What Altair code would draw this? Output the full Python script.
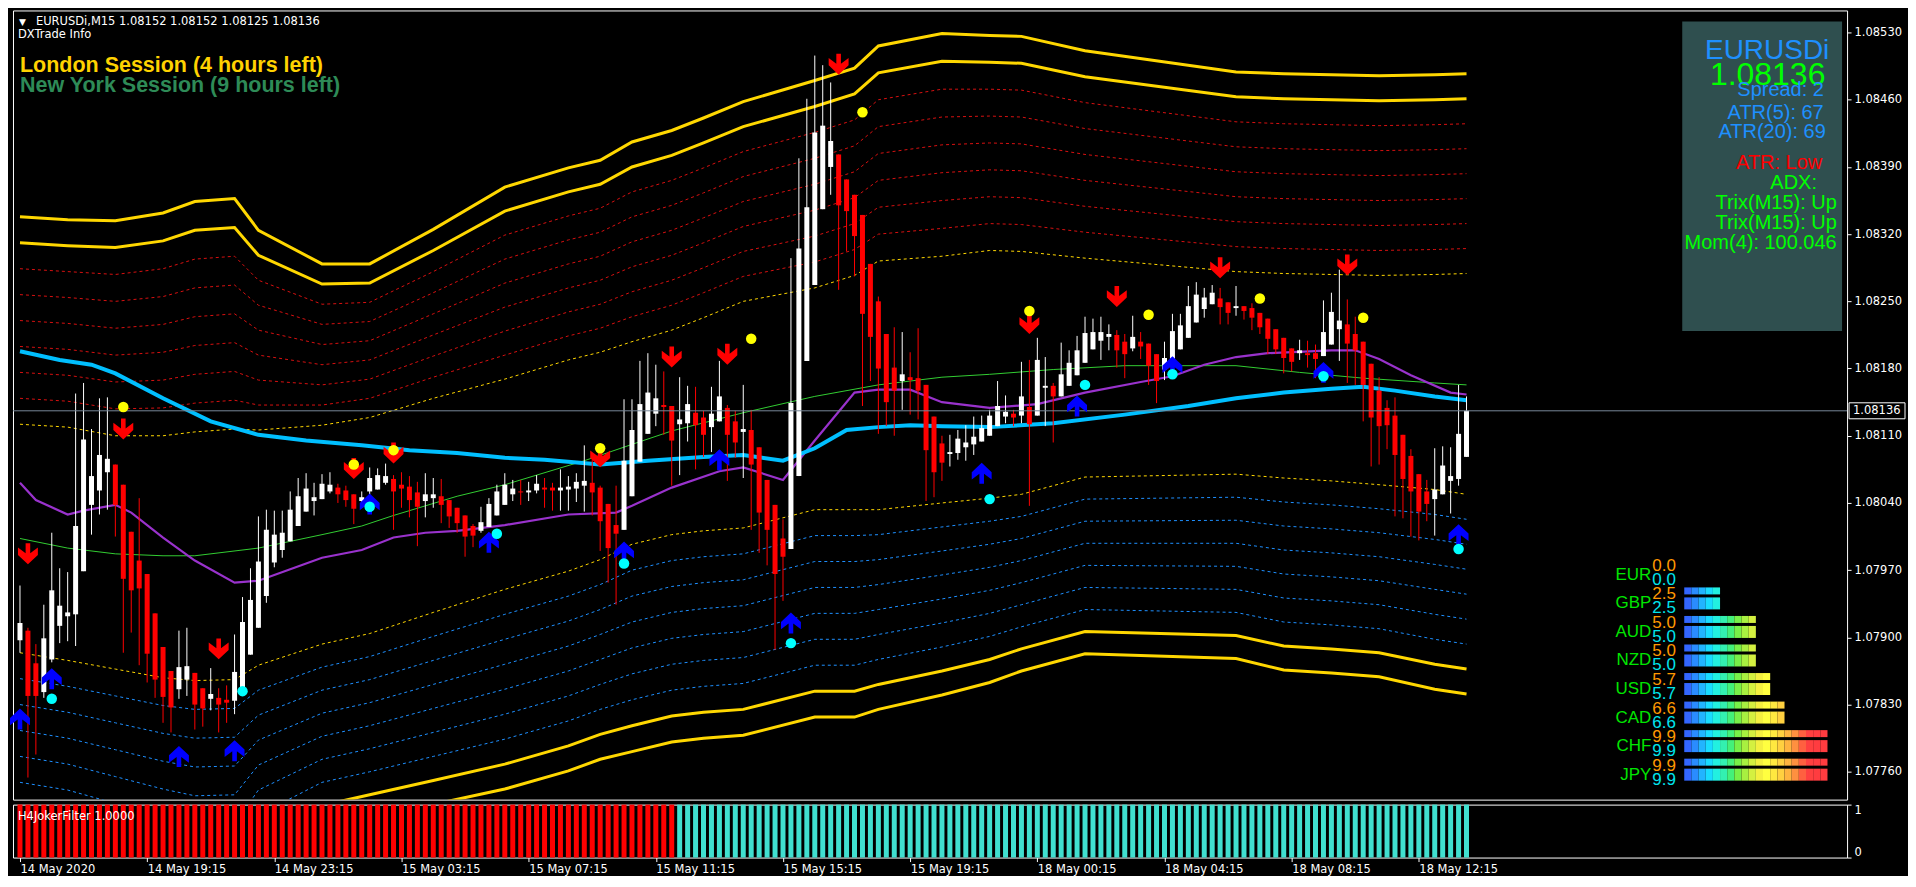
import json
import math
import altair as alt
import pandas as pd

W, H_MAIN, H_LOW = 1836, 790, 53
UI_FONT = "DejaVu Sans"
ARIAL = "Liberation Sans"

# ---------------- candle data (EURUSDi M15) ----------------
BAR = list(range(183))
OPEN = [1.07897,1.07907,1.07873,1.07843,1.07877,1.07912,1.07922,1.07924,1.07969,1.08038,
        1.08053,1.08072,1.08080,1.08059,1.08010,1.07980,1.07966,1.07925,1.07890,1.07865,
        1.07846,1.07856,1.07863,1.07847,1.07836,1.07837,1.07835,1.07834,1.07848,1.07882,
        1.07910,1.07943,1.07978,1.07991,1.08000,1.08016,1.08031,1.08042,1.08044,1.08052,
        1.08056,1.08053,1.08049,1.08042,1.08052,1.08054,1.08061,1.08065,1.08059,1.08057,
        1.08051,1.08042,1.08045,1.08047,1.08043,1.08035,1.08027,1.08016,1.08011,1.08015,
        1.08027,1.08038,1.08049,1.08052,1.08051,1.08053,1.08056,1.08056,1.08053,1.08054,
        1.08055,1.08058,1.08061,1.08056,1.08039,1.08017,1.08012,1.08047,1.08083,1.08112,
        1.08133,1.08142,1.08141,1.08122,1.08123,1.08134,1.08129,1.08119,1.08125,1.08139,
        1.08125,1.08114,1.08116,1.08098,1.08064,1.08038,1.08003,1.07992,1.08068,1.08188,
        1.08267,1.08346,1.08390,1.08403,1.08377,1.08361,1.08340,1.08289,1.08250,1.08216,
        1.08181,1.08167,1.08171,1.08170,1.08163,1.08130,1.08102,1.08091,1.08092,1.08098,
        1.08101,1.08104,1.08110,1.08120,1.08130,1.08133,1.08131,1.08140,1.08131,1.08160,
        1.08162,1.08151,1.08162,1.08173,1.08186,1.08200,1.08209,1.08213,1.08215,1.08208,
        1.08201,1.08208,1.08206,1.08195,1.08179,1.08189,1.08200,1.08212,1.08228,1.08242,
        1.08247,1.08253,1.08249,1.08243,1.08245,1.08243,1.08238,1.08232,1.08221,1.08212,
        1.08201,1.08196,1.08196,1.08196,1.08193,1.08205,1.08221,1.08226,1.08216,1.08208,
        1.08185,1.08157,1.08139,1.08131,1.08111,1.08089,1.08070,1.08052,1.08044,1.08049,
        1.08063,1.08065,1.08088]
HIGH = [1.07954,1.07910,1.07893,1.07934,1.08009,1.07972,1.07968,1.08154,1.08165,1.08117,
        1.08149,1.08150,1.08080,1.08059,1.08010,1.08045,1.07966,1.07925,1.07890,1.07865,
        1.07907,1.07910,1.07863,1.07847,1.07868,1.07847,1.07850,1.07903,1.07942,1.07972,
        1.08026,1.08033,1.08032,1.08032,1.08052,1.08066,1.08071,1.08061,1.08070,1.08072,
        1.08060,1.08058,1.08049,1.08052,1.08077,1.08076,1.08081,1.08069,1.08072,1.08068,
        1.08062,1.08071,1.08066,1.08065,1.08043,1.08035,1.08027,1.08018,1.08036,1.08045,
        1.08059,1.08071,1.08064,1.08064,1.08062,1.08069,1.08066,1.08061,1.08075,1.08068,
        1.08071,1.08100,1.08087,1.08058,1.08039,1.08058,1.08148,1.08148,1.08188,1.08196,
        1.08184,1.08177,1.08141,1.08171,1.08162,1.08161,1.08136,1.08161,1.08188,1.08142,
        1.08136,1.08163,1.08137,1.08098,1.08064,1.08038,1.08023,1.08295,1.08399,1.08461,
        1.08506,1.08496,1.08478,1.08403,1.08377,1.08361,1.08340,1.08289,1.08255,1.08216,
        1.08223,1.08218,1.08197,1.08222,1.08163,1.08130,1.08110,1.08111,1.08116,1.08121,
        1.08130,1.08131,1.08137,1.08167,1.08152,1.08137,1.08187,1.08189,1.08212,1.08192,
        1.08165,1.08207,1.08199,1.08214,1.08234,1.08232,1.08234,1.08226,1.08220,1.08216,
        1.08235,1.08218,1.08206,1.08195,1.08208,1.08237,1.08237,1.08266,1.08270,1.08264,
        1.08267,1.08264,1.08249,1.08266,1.08245,1.08248,1.08238,1.08232,1.08221,1.08212,
        1.08201,1.08210,1.08209,1.08205,1.08251,1.08259,1.08283,1.08252,1.08234,1.08208,
        1.08185,1.08171,1.08147,1.08150,1.08111,1.08096,1.08070,1.08064,1.08097,1.08099,
        1.08098,1.08163,1.08151]
LOW = [1.07884,1.07754,1.07778,1.07837,1.07874,1.07894,1.07896,1.07891,1.07969,1.08007,
       1.08028,1.08033,1.08005,1.07884,1.07905,1.07871,1.07853,1.07837,1.07811,1.07801,
       1.07836,1.07839,1.07804,1.07807,1.07824,1.07801,1.07811,1.07820,1.07848,1.07882,
       1.07910,1.07936,1.07973,1.07983,1.08000,1.08016,1.08031,1.08027,1.08044,1.08050,
       1.08040,1.08036,1.08018,1.08035,1.08045,1.08054,1.08059,1.08012,1.08035,1.08025,
       1.07995,1.08025,1.08035,1.08019,1.08014,1.08009,1.07984,1.07994,1.08009,1.08015,
       1.08027,1.08038,1.08042,1.08038,1.08042,1.08050,1.08035,1.08032,1.08032,1.08032,
       1.08041,1.08031,1.08027,1.07990,1.07957,1.07934,1.08012,1.08047,1.08083,1.08112,
       1.08120,1.08111,1.08058,1.08069,1.08104,1.08075,1.08088,1.08093,1.08125,1.08063,
       1.08087,1.08066,1.08012,1.07988,1.07975,1.07887,1.07938,1.07992,1.08068,1.08188,
       1.08267,1.08346,1.08361,1.08262,1.08302,1.08276,1.08141,1.08167,1.08112,1.08120,
       1.08110,1.08137,1.08132,1.08127,1.08042,1.08046,1.08063,1.08078,1.08085,1.08084,
       1.08090,1.08104,1.08110,1.08120,1.08123,1.08120,1.08123,1.08037,1.08131,1.08120,
       1.08103,1.08151,1.08162,1.08173,1.08186,1.08200,1.08189,1.08199,1.08181,1.08170,
       1.08198,1.08190,1.08163,1.08144,1.08168,1.08189,1.08200,1.08212,1.08228,1.08233,
       1.08247,1.08226,1.08226,1.08235,1.08231,1.08220,1.08216,1.08195,1.08195,1.08175,
       1.08177,1.08189,1.08181,1.08170,1.08193,1.08205,1.08188,1.08165,1.08163,1.08125,
       1.08078,1.08080,1.08096,1.08026,1.08024,1.08005,1.08001,1.08021,1.08006,1.08049,
       1.08029,1.08058,1.08088]
CLOSE = [1.07915,1.07839,1.07839,1.07899,1.07949,1.07933,1.07926,1.08016,1.08106,1.08068,
         1.08090,1.08086,1.08038,1.07961,1.07949,1.07951,1.07883,1.07856,1.07838,1.07827,
         1.07869,1.07870,1.07830,1.07826,1.07841,1.07830,1.07832,1.07864,1.07916,1.07939,
         1.07979,1.08012,1.08007,1.08009,1.08033,1.08047,1.08055,1.08046,1.08060,1.08059,
         1.08049,1.08043,1.08034,1.08046,1.08066,1.08069,1.08068,1.08052,1.08055,1.08043,
         1.08036,1.08049,1.08049,1.08038,1.08026,1.08019,1.08005,1.08006,1.08020,1.08039,
         1.08052,1.08059,1.08055,1.08051,1.08053,1.08060,1.08054,1.08053,1.08056,1.08057,
         1.08062,1.08063,1.08051,1.08021,1.07993,1.08008,1.08084,1.08116,1.08143,1.08155,
         1.08149,1.08140,1.08105,1.08127,1.08143,1.08121,1.08111,1.08133,1.08151,1.08111,
         1.08103,1.08117,1.08080,1.08030,1.08012,1.07966,1.07984,1.08144,1.08305,1.08348,
         1.08426,1.08433,1.08417,1.08350,1.08344,1.08318,1.08237,1.08213,1.08180,1.08145,
         1.08157,1.08174,1.08168,1.08157,1.08095,1.08072,1.08082,1.08093,1.08107,1.08103,
         1.08109,1.08118,1.08131,1.08141,1.08135,1.08129,1.08151,1.08122,1.08189,1.08162,
         1.08151,1.08174,1.08186,1.08199,1.08217,1.08218,1.08218,1.08216,1.08199,1.08195,
         1.08213,1.08203,1.08183,1.08167,1.08191,1.08219,1.08225,1.08245,1.08257,1.08254,
         1.08259,1.08244,1.08238,1.08245,1.08240,1.08233,1.08223,1.08211,1.08200,1.08191,
         1.08187,1.08199,1.08194,1.08190,1.08218,1.08239,1.08230,1.08206,1.08199,1.08163,
         1.08129,1.08120,1.08121,1.08090,1.08065,1.08052,1.08031,1.08039,1.08054,1.08079,
         1.08068,1.08112,1.08136]
CUR_PRICE = 1.08136

# ---------------- indicator lines (read at sample bars) ----------------
GREEN_BARS = [0,6,12,18,22,30,34,38,43,47,51,55,61,71,77,82,91,100,108,116,122,130,139,153,161,169,178,182]
GREEN_VALS = [1.08003,1.07993,1.07987,1.07985,1.07985,1.07993,1.08000,1.08007,1.08016,1.08027,
              1.08037,1.08047,1.08059,1.08084,1.08101,1.08115,1.08134,1.08151,1.08163,1.08171,
              1.08174,1.08179,1.08183,1.08183,1.08176,1.08170,1.08165,1.08163]
CYAN_BARS = [0,5,9,12,18,24,30,36,43,49,55,61,66,73,79,86,91,96,100,104,108,112,116,122,130,139,147,153,159,165,169,173,178,182]
CYAN_VALS = [1.08198,1.08189,1.08184,1.08175,1.08149,1.08125,1.08111,1.08105,1.08100,1.08095,
             1.08092,1.08087,1.08085,1.08080,1.08084,1.08088,1.08090,1.08084,1.08097,1.08116,
             1.08119,1.08121,1.08120,1.08119,1.08123,1.08132,1.08141,1.08149,1.08155,1.08159,
             1.08161,1.08157,1.08151,1.08147]
MAG_BARS = [0,2,6,8,12,14,18,22,27,30,34,38,43,47,51,55,61,69,75,77,82,88,91,96,100,105,108,112,116,122,128,134,141,145,149,153,157,165,168,171,175,180,182]
MAG_VALS = [1.08061,1.08043,1.08028,1.08032,1.08038,1.08030,1.08004,1.07980,1.07957,1.07959,
            1.07971,1.07983,1.07991,1.08004,1.08009,1.08011,1.08017,1.08028,1.08030,1.08037,
            1.08056,1.08073,1.08077,1.08064,1.08105,1.08155,1.08158,1.08158,1.08145,1.08139,
            1.08143,1.08155,1.08166,1.08172,1.08184,1.08192,1.08196,1.08199,1.08199,1.08190,
            1.08173,1.08155,1.08153]
# envelope: inner (yellow dotted) levels and the spacing of the outer levels, per side
BAND_BARS = [0,6,12,18,22,27,30,38,44,52,61,69,73,77,82,86,91,100,105,108,116,122,126,134,153,159,165,171,178,182]
BAND_UPPER = [1.08122,1.08119,1.08110,1.08110,1.08114,1.08117,1.08116,1.08121,1.08129,1.08149,
              1.08169,1.08189,1.08197,1.08208,1.08220,1.08233,1.08250,1.08264,1.08277,1.08292,
              1.08297,1.08303,1.08302,1.08295,1.08281,1.08279,1.08278,1.08277,1.08278,1.08279]
BAND_LOWER = [1.07884,1.07876,1.07867,1.07858,1.07855,1.07856,1.07871,1.07893,1.07904,1.07926,
              1.07950,1.07969,1.07981,1.07997,1.08007,1.08011,1.08014,1.08033,1.08033,1.08033,
              1.08040,1.08045,1.08049,1.08067,1.08070,1.08066,1.08063,1.08059,1.08054,1.08049]
STEP_UP = [0.00027,0.00027,0.00028,0.00029,0.00030,0.00030,0.00026,0.00021,0.00020,0.00022,
           0.00025,0.00025,0.00025,0.00026,0.00026,0.00026,0.00026,0.00027,0.00027,0.00028,
           0.00029,0.00028,0.00028,0.00027,0.00026,0.00026,0.00026,0.00026,0.00026,0.00026]
STEP_DN = [0.00027,0.00027,0.00028,0.00029,0.00030,0.00030,0.00026,0.00024,0.00024,0.00025,
           0.00026,0.00026,0.00026,0.00027,0.00027,0.00027,0.00027,0.00027,0.00027,0.00026,
           0.00025,0.00024,0.00023,0.00023,0.00024,0.00025,0.00025,0.00025,0.00026,0.00026]
BAND_LEVELS = list(range(9))   # 0 = yellow dotted, 1-6 = red/blue dotted, 7-8 = thick yellow

# ---------------- signals ----------------
RED_ARROW_BARS = [1,13,25,42,47,73,82,89,103,127,138,151,167]
RED_ARROW_PRICES = [1.07987,1.08117,1.07888,1.08076,1.08092,1.08088,1.08192,1.08195,1.08497,1.08227,1.08255,1.08285,1.08288]
YELLOW_DOT_BARS = [13,42,47,73,92,106,127,142,156,169]
YELLOW_DOT_PRICES = [1.08140,1.08080,1.08095,1.08097,1.08211,1.08447,1.08240,1.08236,1.08253,1.08233]
BLUE_ARROW_BARS = [0,4,20,27,44,59,76,88,97,121,133,145,164,181]
BLUE_ARROW_PRICES = [1.07815,1.07857,1.07776,1.07782,1.08039,1.07999,1.07989,1.08085,1.07915,1.08071,1.08141,1.08182,1.08176,1.08007]
CYAN_DOT_BARS = [4,28,44,60,76,97,122,134,145,164,181]
CYAN_DOT_PRICES = [1.07836,1.07844,1.08036,1.08008,1.07977,1.07894,1.08044,1.08163,1.08174,1.08172,1.07992]

# ---------------- lower window (H4JokerFilter) ----------------
FILTER_STATE = ["sell"] * 83 + ["buy"] * 100
FILTER_VALUE = [1.0] * 183

# ---------------- axes text ----------------
PRICE_TICKS = [1.08530,1.08460,1.08390,1.08320,1.08250,1.08180,1.08110,1.08040,1.07970,1.07900,1.07830,1.07760]
TIME_TICKS = [0,16,32,48,64,80,96,112,128,144,160,176]
TIME_LABELS = ["14 May 2020","14 May 19:15","14 May 23:15","15 May 03:15","15 May 07:15","15 May 11:15",
               "15 May 15:15","15 May 19:15","18 May 00:15","18 May 04:15","18 May 08:15","18 May 12:15"]

# ---------------- currency strength meter ----------------
CURRENCIES = ["EUR","GBP","AUD","NZD","USD","CAD","CHF","JPY"]
STRENGTH_A = [0.0,2.5,5.0,5.0,5.7,6.6,9.9,9.9]
STRENGTH_B = [0.0,2.5,5.0,5.0,5.7,6.6,9.9,9.9]

assert len(OPEN) == len(HIGH) == len(LOW) == len(CLOSE) == 183
assert len(GREEN_BARS) == len(GREEN_VALS)
assert len(CYAN_BARS) == len(CYAN_VALS)
assert len(MAG_BARS) == len(MAG_VALS)
assert len(BAND_BARS) == len(BAND_UPPER) == len(BAND_LOWER) == len(STEP_UP) == len(STEP_DN)

# ======================= build =======================
xs = alt.Scale(domain=[-0.25, W / 8 - 0.25], nice=False, zero=False)
ys = alt.Scale(domain=[1.07731, 1.08553], nice=False, zero=False)
yax = alt.Axis(orient="right", values=PRICE_TICKS, format=".5f", title=None, grid=False,
               domain=False, tickSize=4, tickColor="#ffffff", labelColor="#ffffff",
               labelFont=UI_FONT, labelFontSize=11.5, labelPadding=3)
X = alt.X("bar:Q", scale=xs, axis=None)


def Y(field):
    return alt.Y(f"{field}:Q", scale=ys, axis=yax)


df = pd.DataFrame({"bar": BAR, "open": OPEN, "high": HIGH, "low": LOW, "close": CLOSE})
up = df[df.close >= df.open]
dn = df[df.close < df.open]

layers = []

# bands
rows = []
for b, u, l, su, sd in zip(BAND_BARS, BAND_UPPER, BAND_LOWER, STEP_UP, STEP_DN):
    for k in BAND_LEVELS:
        rows.append({"bar": b, "v": u + k * su, "k": k, "side": "up", "id": f"u{k}"})
        rows.append({"bar": b, "v": l - k * sd, "k": k, "side": "dn", "id": f"d{k}"})
bands = pd.DataFrame(rows)


def line(data, color, width, dash=None):
    kw = dict(color=color, strokeWidth=width, clip=True)
    if dash:
        kw["strokeDash"] = dash
    return alt.Chart(data).mark_line(**kw).encode(x=X, y=Y("v"), detail="id:N", order="bar:Q")


layers.append(line(bands[(bands.k >= 1) & (bands.k <= 6) & (bands.side == "up")], "#d81010", 1, [3, 3]))
layers.append(line(bands[(bands.k >= 1) & (bands.k <= 6) & (bands.side == "dn")], "#1e90ff", 1, [3, 3]))
layers.append(line(bands[bands.k == 0], "#ffd700", 1, [3, 3]))
layers.append(line(bands[bands.k >= 7], "#ffd700", 3))

# moving averages
green = pd.DataFrame({"bar": GREEN_BARS, "v": GREEN_VALS, "id": "g"})
cyan = pd.DataFrame({"bar": CYAN_BARS, "v": CYAN_VALS, "id": "c"})
mag = pd.DataFrame({"bar": MAG_BARS, "v": MAG_VALS, "id": "m"})
layers.append(line(green, "#32cd32", 1))
layers.append(line(mag, "#9932cc", 2.2))
layers.append(line(cyan, "#00bfff", 4))

# candles
layers.append(alt.Chart(up).mark_rule(color="#ffffff", strokeWidth=1).encode(x=X, y=Y("low"), y2="high:Q"))
layers.append(alt.Chart(dn).mark_rule(color="#ff0000", strokeWidth=1).encode(x=X, y=Y("low"), y2="high:Q"))
layers.append(alt.Chart(up).mark_bar(color="#ffffff", size=5).encode(x=X, y=Y("open"), y2="close:Q"))
layers.append(alt.Chart(dn).mark_bar(color="#ff0000", size=5).encode(x=X, y=Y("open"), y2="close:Q"))

# bid line
bid = pd.DataFrame({"v": [CUR_PRICE]})
layers.append(alt.Chart(bid).mark_rule(color="#778899", strokeWidth=1).encode(y=Y("v")))

# arrows and dots
DOWN = "M-0.22,-1L0.22,-1L0.22,-0.05L0.95,-0.6L0.95,0.1L0,1L-0.95,0.1L-0.95,-0.6L-0.22,-0.05Z"
UPA = "M-0.22,1L0.22,1L0.22,0.05L0.95,0.6L0.95,-0.1L0,-1L-0.95,-0.1L-0.95,0.6L-0.22,0.05Z"
ra = pd.DataFrame({"bar": RED_ARROW_BARS, "v": RED_ARROW_PRICES})
ba = pd.DataFrame({"bar": BLUE_ARROW_BARS, "v": BLUE_ARROW_PRICES})
yd = pd.DataFrame({"bar": YELLOW_DOT_BARS, "v": YELLOW_DOT_PRICES})
cd = pd.DataFrame({"bar": CYAN_DOT_BARS, "v": CYAN_DOT_PRICES})
layers.append(alt.Chart(ra).mark_point(shape=DOWN, filled=True, color="#ff0000", size=440, opacity=1, strokeWidth=0).encode(x=X, y=Y("v")))
layers.append(alt.Chart(ba).mark_point(shape=UPA, filled=True, color="#0000ff", size=440, opacity=1, strokeWidth=0).encode(x=X, y=Y("v")))
layers.append(alt.Chart(yd).mark_circle(color="#ffff00", size=110, opacity=1).encode(x=X, y=Y("v")))
layers.append(alt.Chart(cd).mark_circle(color="#00ffff", size=110, opacity=1).encode(x=X, y=Y("v")))

# bid label on the price axis
layers.append(alt.Chart(bid).mark_rect(fill="#000000", stroke="#ffffff", strokeWidth=1, yOffset=-8, y2Offset=8).encode(
    y=Y("v"), y2="v:Q", x=alt.value(W + 2), x2=alt.value(W + 58)))
layers.append(alt.Chart(bid.assign(t="1.08136")).mark_text(align="left", baseline="middle", color="#ffffff",
              font=UI_FONT, fontSize=11.5).encode(y=Y("v"), x=alt.value(W + 6), text="t:N"))

price_layer = alt.layer(*layers)

# currency strength meter
blk = []
for i, (c, va, vb) in enumerate(zip(CURRENCIES, STRENGTH_A, STRENGTH_B)):
    for j in range(int(math.ceil(va * 2 - 1e-9))):
        blk.append({"row": i, "s": j * 0.5, "e": (j + 1) * 0.5, "blk": j, "bar": "a"})
    for j in range(int(math.ceil(vb * 2 - 1e-9))):
        blk.append({"row": i, "s": j * 0.5, "e": (j + 1) * 0.5, "blk": j, "bar": "b"})
blk = pd.DataFrame(blk)
PALETTE = ["#3366ff", "#2a8cff", "#22b4ff", "#19dcff", "#22f0e0", "#33f0b0", "#44f07a", "#78f048",
           "#a8f040", "#d4f040", "#f4f040", "#ffff40", "#ffe840", "#ffd040", "#ffb440", "#ff9040",
           "#ff6040", "#ff4040", "#ff3c40", "#ff3c40"]
cx = alt.Scale(domain=[0, 10], range=[W - 163, W - 19.6])
cy = alt.Scale(domain=[0, 7], range=[560, 770])
CCOL = alt.Color("blk:O", scale=alt.Scale(domain=list(range(20)), range=PALETTE), legend=None)
cur_rows = pd.DataFrame({"row": list(range(8)), "cur": CURRENCIES, "a": STRENGTH_A, "b": STRENGTH_B})
cur_layer = alt.layer(
    alt.Chart(blk[blk.bar == "a"]).mark_bar(size=7, yOffset=-12.5, orient="horizontal").encode(
        x=alt.X("s:Q", scale=cx, axis=None), x2="e:Q", y=alt.Y("row:Q", scale=cy, axis=None), color=CCOL),
    alt.Chart(blk[blk.bar == "b"]).mark_bar(size=12, orient="horizontal").encode(
        x=alt.X("s:Q", scale=cx, axis=None), x2="e:Q", y=alt.Y("row:Q", scale=cy, axis=None), color=CCOL),
    alt.Chart(cur_rows).mark_text(align="right", baseline="middle", color="#00e600", font=ARIAL, fontSize=17).encode(
        x=alt.value(W - 196), y=alt.Y("row:Q", scale=cy, axis=None), text="cur:N"),
    alt.Chart(cur_rows).mark_text(align="left", baseline="middle", color="#ff9900", font=ARIAL, fontSize=17, dy=-9).encode(
        x=alt.value(W - 195), y=alt.Y("row:Q", scale=cy, axis=None), text=alt.Text("a:Q", format=".1f")),
    alt.Chart(cur_rows).mark_text(align="left", baseline="middle", color="#00e5ee", font=ARIAL, fontSize=17, dy=5).encode(
        x=alt.value(W - 195), y=alt.Y("row:Q", scale=cy, axis=None), text=alt.Text("b:Q", format=".1f")),
)


def txt(s, x, y, color, size, align="left", weight="normal", font=UI_FONT):
    return alt.Chart(pd.DataFrame({"t": [s]})).mark_text(
        align=align, baseline="middle", color=color, fontSize=size, fontWeight=weight, font=font
    ).encode(x=alt.value(x), y=alt.value(y), text="t:N")


ann = [
    txt("▼", 6, 12, "#ffffff", 9),
    txt("EURUSDi,M15  1.08152 1.08152 1.08125 1.08136", 23, 12, "#ffffff", 11.5),
    txt("DXTrade Info", 5, 25, "#ffffff", 11.5),
    txt("London Session (4 hours left)", 7, 56, "#ffd200", 21.5, weight="bold", font=ARIAL),
    txt("New York Session (9 hours left)", 7, 76, "#2e8b57", 21.5, weight="bold", font=ARIAL),
    alt.Chart(pd.DataFrame({"a": [0]})).mark_rect(color="#2f4f4f").encode(
        x=alt.value(W - 165), x2=alt.value(W - 5), y=alt.value(11), y2=alt.value(321)),
    txt("EURUSDi", W - 80, 41, "#1e90ff", 28, align="center", font=ARIAL),
    txt("1.08136", W - 79.5, 65, "#00ff00", 32, align="center", font=ARIAL),
    txt("Spread: 2", W - 66.5, 80, "#1e90ff", 20, align="center", font=ARIAL),
    txt("ATR(5): 67", W - 71.5, 103, "#1e90ff", 20, align="center", font=ARIAL),
    txt("ATR(20): 69", W - 75, 122, "#1e90ff", 20, align="center", font=ARIAL),
    txt("ATR: Low", W - 68, 153, "#ff0000", 20, align="center", font=ARIAL),
    txt("ADX:", W - 53.5, 173, "#00ff00", 20, align="center", font=ARIAL),
    txt("Trix(M15): Up", W - 71, 193, "#00ff00", 20, align="center", font=ARIAL),
    txt("Trix(M15): Up", W - 71, 213, "#00ff00", 20, align="center", font=ARIAL),
    txt("Mom(4): 100.046", W - 86.5, 233, "#00ff00", 20, align="center", font=ARIAL),
]
ann_layer = alt.layer(*ann)

top = alt.layer(price_layer, cur_layer, ann_layer).resolve_scale(
    x="independent", y="independent").properties(width=W, height=H_MAIN)

# lower window
low_df = pd.DataFrame({"bar": BAR, "v": FILTER_VALUE, "state": FILTER_STATE})
lys = alt.Scale(domain=[0, 1], nice=False)
lyax = alt.Axis(orient="right", values=[0, 1], format="d", title=None, grid=False, domain=False,
                tickSize=4, tickColor="#ffffff", labelColor="#ffffff", labelFont=UI_FONT,
                labelFontSize=11.5, labelFlush=True, labelPadding=3)
label_expr = json.dumps(TIME_LABELS) + "[round(datum.value / 16)]"
lxax = alt.Axis(values=TIME_TICKS, labelExpr=label_expr, labelAlign="left", labelFlush=False,
                title=None, grid=False, domain=False, tickSize=4, tickColor="#ffffff",
                labelColor="#ffffff", labelFont=UI_FONT, labelFontSize=11.5, labelPadding=2)
LX = alt.X("bar:Q", scale=xs, axis=lxax)
bottom = alt.layer(
    alt.Chart(low_df[low_df.state == "sell"]).mark_bar(color="#ff0000", size=5).encode(
        x=LX, y=alt.Y("v:Q", scale=lys, axis=lyax)),
    alt.Chart(low_df[low_df.state == "buy"]).mark_bar(color="#40e0d0", size=5).encode(
        x=LX, y=alt.Y("v:Q", scale=lys, axis=lyax)),
    txt("H4JokerFilter 1.0000", 5, 12, "#ffffff", 11.5),
).properties(width=W, height=H_LOW)

chart = alt.vconcat(top, bottom, spacing=3).resolve_scale(x="independent", y="independent").properties(
    background="#000000", padding={"left": 1, "top": 1, "right": 2, "bottom": 0}
).configure_view(stroke="#ffffff", strokeWidth=1)

chart.save("out.html", embed_options={"renderer": "svg", "actions": False})
